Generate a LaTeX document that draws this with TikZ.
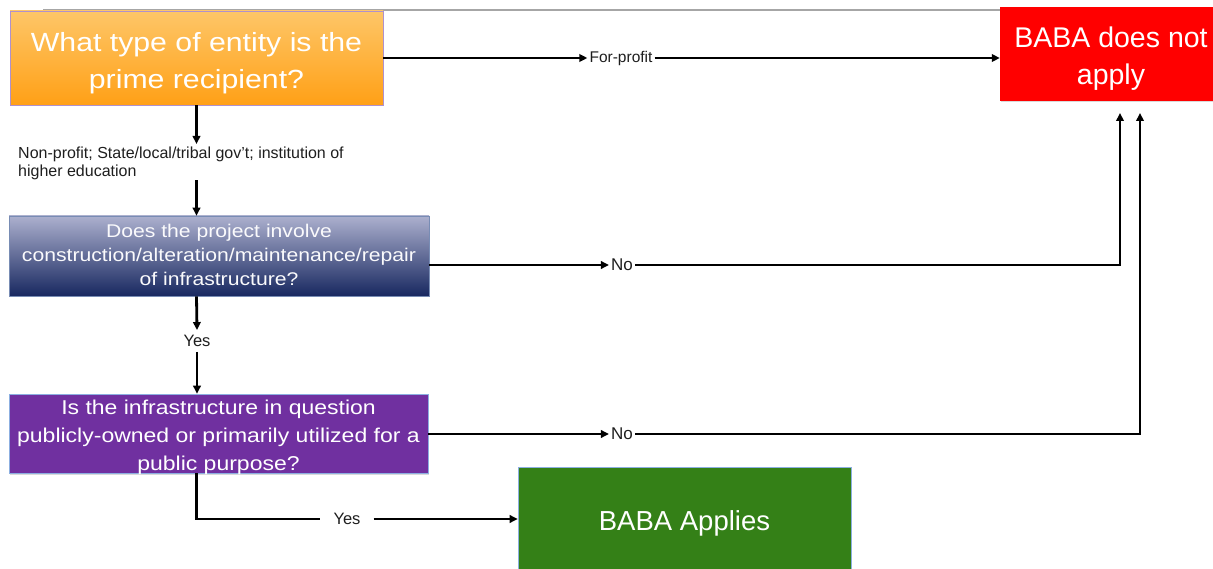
\documentclass[tikz,border=0pt]{standalone}
\usepackage{calc}
\usepackage{fontspec}
\setmainfont{Liberation Sans}
\newfontfamily\boxfont[FakeStretch=1.15]{Liberation Sans}
\usetikzlibrary{arrows.meta,shadows}
\definecolor{orangeT}{RGB}{254,198,104}
\definecolor{orangeB}{RGB}{255,160,22}
\definecolor{orangeBd}{RGB}{175,145,205}
\definecolor{blueT}{RGB}{172,176,206}
\definecolor{blueB}{RGB}{24,40,96}
\definecolor{blueBd}{RGB}{120,140,180}
\definecolor{purpleF}{RGB}{112,48,160}
\definecolor{greenF}{RGB}{52,128,23}
\definecolor{lightBd}{RGB}{140,175,225}
\definecolor{redF}{RGB}{255,0,0}
\definecolor{lbltext}{RGB}{30,30,30}
\newcommand\lowertext[2]{\raisebox{-#1}[\height-6pt][\depth-6pt]{\begin{tabular}{@{}c@{}}#2\end{tabular}}}
\begin{document}
\begin{tikzpicture}[x=1pt,y=-1pt,
  box/.style={rectangle, inner sep=0pt, text=white, align=center,
    drop shadow={opacity=0.3, shadow xshift=1.2pt, shadow yshift=-1.5pt}},
  conn/.style={line width=2.8pt, -{Triangle[length=8pt,width=7.5pt]}},
  plainline/.style={line width=2.8pt},
  lbl/.style={inner sep=2pt, text=lbltext, font=\fontsize{15.5}{18}\selectfont}
]
\useasboundingbox (0,0) rectangle (1213,569);

% thin grey line along the top
\coordinate (gl) at (43,10);
\coordinate (gr) at (1002,10);
\draw[black!35, line width=1.5pt] (gl) -- (gr);

% boxes
\node[box, minimum width=373pt, minimum height=94pt, top color=orangeT, bottom color=orangeB,
      draw=orangeBd, line width=0.8pt, font=\boxfont\fontsize{26.3}{37}\selectfont]
  (q1) at (196.5,58) {\lowertext{5pt}{What type of entity is the\\prime recipient?}};

\node[box, minimum width=420pt, minimum height=80pt, top color=blueT, bottom color=blueB,
      draw=blueBd, line width=0.6pt, text=white!94!blueT, font=\boxfont\fontsize{18.4}{24}\selectfont]
  (q2) at (219,256) {\lowertext{1pt}{Does the project involve\\construction/alteration/maintenance/repair\\of infrastructure?}};

\node[box, minimum width=419pt, minimum height=79pt, fill=purpleF,
      draw=lightBd, line width=0.6pt, font=\boxfont\fontsize{20}{28}\selectfont]
  (q3) at (218.5,433.5) {\lowertext{3pt}{Is the infrastructure in question\\publicly-owned or primarily utilized for a\\public purpose?}};

\node[box, minimum width=222pt, minimum height=94pt, fill=redF,
      font=\fontsize{28.5}{37}\selectfont]
  (red) at (1111,54) {\lowertext{5pt}{BABA does not\\apply}};

\node[box, minimum width=333pt, minimum height=108pt, fill=greenF,
      draw=lightBd, line width=0.6pt, font=\fontsize{27.5}{33}\selectfont]
  (green) at (684.5,521) {\lowertext{3pt}{BABA Applies}};

% labels
\node[lbl, inner sep=0pt, anchor=north west, align=left, font=\fontsize{16}{18}\selectfont] (np) at (18,147)
  {Non-profit; State/local/tribal gov't; institution of\\higher education};
\node[lbl] (fp) at (621,58) {For-profit};
\node[lbl, font=\fontsize{17}{20}\selectfont] (no1) at (622,265) {No};
\node[lbl, font=\fontsize{17}{20}\selectfont] (no2) at (622,434) {No};
\node[lbl, inner ysep=5pt, font=\fontsize{16.5}{20}\selectfont] (yes1) at (197,341) {Yes};
\node[lbl, inner xsep=13pt, font=\fontsize{16.5}{20}\selectfont] (yes2) at (347,519) {Yes};

\coordinate (r1) at (1120,113);
\coordinate (r2) at (1140,113);

% connectors
\draw[conn] (q1.east |- fp.west) -- (fp.west);
\draw[conn] (fp.east) -- (red.west |- fp.east);

\draw[conn] (q1.south) -- ([yshift=3pt]q1.south |- np.north);
\draw[conn] (q1.south |- np.south) -- (q1.south |- q2.north);

\draw[conn] (q2.east |- no1.west) -- (no1.west);
\draw[conn] (no1.east) -| (r1);

\draw[conn] (q1.south |- q2.south) -- (yes1.north);
\draw[conn] (yes1.south) -- (yes1.south |- q3.north);

\draw[conn] (q3.east |- no2.west) -- (no2.west);
\draw[conn] (no2.east) -| (r2);

\draw[plainline] (q1.south |- q3.south) |- (yes2.west);
\draw[conn] (yes2.east) -- (green.west |- yes2.east);
\end{tikzpicture}
\end{document}
